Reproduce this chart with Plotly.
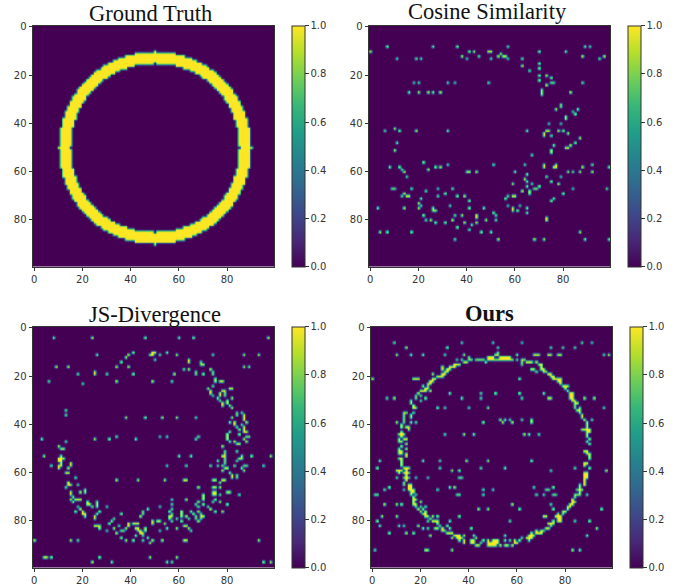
import numpy as np
import plotly.graph_objects as go

SIZE = 100
UPSCALE = 3          # display cells per data cell
BLUR_SIGMA = 0.29    # softening of the picture, in data cells
# Ground truth ring: half-widths per row distance from the centre row
GT_OUTER = [40,39,39,39,39,39,39,39,39,38,38,38,38,37,37,37,36,36,35,35,34,34,33,32,32,31,30,29,28,27,26,25,24,22,21,19,17,15,12,8,0]
GT_INNER = [35,34,34,34,34,34,34,34,34,33,33,33,32,32,32,31,31,30,30,29,28,28,27,26,25,24,23,22,21,19,18,16,14,11,8,0]

COS_ROWS = [8,10,11,12,13,15,16,17,18,20,21,22,23,24,26,27,28,32,33,34,35,36,37,38,40,42,43,44,45,46,48,49,50,51,52,53,56,57,58,59,60,61,62,63,64,65,66,67,68,69,70,71,72,73,74,75,76,77,78,79,80,81,82,83,84,85,88]
COS_COLS = [[7,26,36,57,89,91],[0,41,43,49,50,70,81],[54],[38,45,53,55,56,88,97],[11,19,21,40,50,57,63,95],[70],[63],[70],[66],[70,73],[75],[70],
 [18,20,32,35,49,75,76,88],[73],[71],[16,20,24,26,29,71,83],[71],[79],[79],[77,86],[84],[85],[81],[81],[74,79],[10],
 [6,12,19,32,65,73,74,78,80],[72,82],[72,75],[87],[11,85],[76,83],[81,82],[10,75],[75],[67],[22],[32,51,64,72,77,92],
 [8,12,27,29,72,76,77,88,99],[13,24],[14,40,41,44,60,82,84,87,92],[65],[15,73,79],[64],[65,75],[59,67,78],[65,70],
 [9,10,17,28,34,68,69,84,98],[23,63,66],[14,31,66,80],[13,15,16,28,36,39,57,59,60],[21,56,76],[41,75],[20],[21,33,57,62],
 [3,14,20,26,41,47,59,65],[26,27,59,61],[51,65],[22,35,38,44,52],[44,73],[23,25,34,48,52,73],[27,31,39,44],[42],[36],[41],
 [4,7,17,46,50,87],[35,53,68,72,89,99]]

JS_ROWS = [4,10,11,12,13,14,15,16,17,18,19,21,22,23,24,25,26,27,28,29,30,31,32,33,34,35,36,37,38,39,40,41,42,43,44,45,46,47,48,49,50,51,52,53,54,55,56,57,58,59,60,61,62,63,64,65,66,67,68,69,70,71,72,73,74,75,76,77,78,79,80,81,82,83,84,85,86,87,88,89,95,97]
JS_COLS = [[8,24,46,60,66,97],[41,49,50,55],[26,39,48,49,52,59,74,87,93],[38],[50,64],[36,64,69],[69,70],[9,14,34,39,87,89],[62,64,73],[25,67,74],
 [18,25,30,41,58,67,70,74],[75],[6,34,49,57,75,77,78],[20],[74],[72,81,82],[73,78,79],[73,77,79],[74,77,79],[76,82],[77,80],[78,80],[78,81],[82],[13],[84,86],
 [13,84,87],[38,46,53,59,67,82,87],[87],[81,83,88],[83,86],[84,87],[85,87],[81,87,88],[80,85],[34,52,55,68,80,88,89],[3,25,31,42,67,80,87],[13,81,83,88],[84,85],[10,78],[11,12],[79,84],[79],
 [4,11,60,65,78,79,86,90,98],[10,11,12,79,85,86],[10,11,76,79,84],[11,15,79],[7,10,11,15,55,63,73,76,78,83,87,88,95],[10,14,79,80,86],[78,87],[13,14,81],[82,84],[17,82,84],
 [34,43,54,62,63,74,75,78,79],[14,77],[14,15,18],[13,68,74,75,77],[21],[15,19,21,74,75,80,81],[15,70,74,75,77,85],[16,70],[15,17,18,19,57,63,70,75],[16,22,26,68,74,77],
 [22,23,26,57,67,70,80],[18,24,26,30,52,68,72],[19,47,57,73],[17,20,27,45,56,61,65,68,75,78],[20,21,26,36,45,57,61,66,69],[21,25,44,56,57,61,63,67,69,70],[25,33,56,59,64,67,69],
 [32,49,51,52,57,61,68],[31,39,41,42,43,49,54],[25,26,27,35,39,62,63],[27,33,38,42,43,46,55,59,64],[30,36,37,43,44,46,52,65],[34,44,45],[42,45],[36,47],[0,15,18,38,41,45,49,53,62,63,93],[48],
 [4,5,7,27,48,59],[24,32,55,57,95,98]]

OURS_ROWS = [6,8,11,21,27,29,33,38,39,44,55,58,59,62,66,67,69,73,75,78,80,82,83,85,86,92]
OURS_COLS = [[9,37,50,62,87,91],[14,31,52,74,79,84],[10,16,21,30,38,51,60,67,68,69,73,74,77,78,96,98],[0,61],[32,45,51,61,71],[6,9,37,45,62,73,74,88,92],[27,30,40,48,96],
 [53,55,57,62,66,91],[10,46,54,58,66],[30,38,42,63,65,69],[3,21,28,39,48,66],[2,28,45,55,84],[33,36,74,97],[18,23,36,37],[7,32,34,67,75],[5,27,46,50,72,73],
 [1,2,35,36,46,68,71,75,76,89],[5,10,12,58,74],[44,48,61,75,95],[4,10,36,71,72],[2,32,57,84,90],[3,11,13,19],[21,23,41,93],[7,14,17],[24,42,55,89],[1,22,23,33,83,86]]
RING_ROWS = [10,11,12,13,14,15,16,17,18,19,20,21,22,23,24,25,26,27,28,29,30,31,32,33,34,35,36,37,38,39,40,41,42,43,44,45,46,47,48,49,50,51,52,53,54,55,56,57,58,59,60,61,62,63,64,65,66,67,68,69,70,71,72,73,74,75,76,77,78,79,80,81,82,83,84,85,86,87,88,89,90]
RING_COLS = [[52],[51,52],[40,48,49,50,53,54,55,56,57],[35,37,40,41,43,44,45,46,48,49,50,51,52,53,54,55,56,57,58,60,62,63],[38,39,47,62,64,65,66,68],[34,35,36,62,69,70],[29,32,33,34,70],[29,31,32,66,67,70,71],[30,31,68,71,72],
 [25,29,30,73,74],[27,28,29,74,75],[17,18,19,25,26,75,76,77,78],[24,25,77,78],[23,24,78],[21,23,79,80,81],[22,23,80],[20,21,22,24,81],[19,82,83],[18,20,82,83],[18,22,82,83],[16,20,83,84],[16,84,85],[17,84],[17,18,84,86],[85,86],[13,14,17,86],[13,16,87],[13,16,87],
 [13,88],[10,13,16,18,89],[12,89],[12,14,15,89],[15,87,88,89,90],[12,89,90],[11,12,13,89],[12,89],[11,13,14,90],[11,12,89],[14,90],[12],[11,14],[11,12,88,89],[11,12,14,89,90],[14,90],[11,12,90],[12],[12,88,89],[12,88],[13,14,15,90],[10,11,12,14],[11,13,14,15,88,89],[14,88,89],[10,13,14,15,88,89],[14,88],[13,88],
 [13,15,16,86,88],[15,16,86],[13,15,16,17,85,86,87],[16,17,86],[16,18,84,85,86],[17,84],[17,18,83],[17,20,83,84],[17,18,82,83],[18,20,22,81,82],[19,21,81],[20,22,79,80],[21,22,77,79],[22,23,25,27,76,77,78],[24,77,78],[23,25,26,27,75,77,78],[27,73,74,75],[28,31,74],[26,27,29,32,72,73],[29,30,68,70,71],[31,32,33,66,68,69,70],[34,35,36,38,65,66,67],[33,35,36,37,43,62,64,65,66],
 [36,38,41,42,46,48,50,51,52,55,57,59,61,65],[38,41,42,45,48,49,50,51,52,59,60],[43,44,48,49,50,51,53,55,56,58]]

TITLES = ["Ground Truth", "Cosine Similarity", "JS-Divergence", "<b>Ours</b>"]
AXIS_TICKS = [0, 20, 40, 60, 80]
CBAR_TICKS = [0.0, 0.2, 0.4, 0.6, 0.8, 1.0]


def from_rows(rows, cols):
    z = np.zeros((SIZE, SIZE))
    for r, cs in zip(rows, cols):
        z[r, cs] = 1.0
    return z


def soften(z):
    """Same cells, drawn with the soft edges of the resampled reference picture."""
    big = np.kron(z, np.ones((UPSCALE, UPSCALE)))
    s = BLUR_SIGMA * UPSCALE
    t = np.arange(-4, 5)
    kernel = np.exp(-t**2 / (2 * s * s))
    kernel /= kernel.sum()
    big = np.apply_along_axis(lambda v: np.convolve(v, kernel, mode="same"), 0, big)
    big = np.apply_along_axis(lambda v: np.convolve(v, kernel, mode="same"), 1, big)
    return np.round(big, 3)


z_gt = np.zeros((SIZE, SIZE))
for d, outer in enumerate(GT_OUTER):
    inner = GT_INNER[d] if d < len(GT_INNER) else -1
    for r in {50 - d, 50 + d}:
        for c in range(50 - outer, 50 + outer + 1):
            if abs(c - 50) > inner:
                z_gt[r, c] = 1.0
z_cos = from_rows(COS_ROWS, COS_COLS)
z_js = from_rows(JS_ROWS, JS_COLS)
z_ours = np.maximum(from_rows(OURS_ROWS, OURS_COLS), from_rows(RING_ROWS, RING_COLS))
PANELS = [z_gt, z_cos, z_js, z_ours]

W, H = 688, 587
# pixel boxes: left, right, top, bottom, colorbar left, title x, title y
BOXES = [(33, 274, 25.7, 266.7, 292, 150, 13),
         (369, 610, 25.7, 266.7, 628, 487, 11),
         (33, 274, 326.7, 567.7, 292, 155, 314),
         (371, 612, 326.7, 567.7, 630, 489, 313)]

coords = (np.arange(SIZE * UPSCALE) + 0.5) / UPSCALE - 0.5

fig = go.Figure()
TICK_FONT = dict(family="DejaVu Sans", size=10, color="#333333")
for i, (z, b) in enumerate(zip(PANELS, BOXES)):
    l, r, t, bt, cb, tx, ty = b
    sfx = "" if i == 0 else str(i + 1)
    fig.add_trace(go.Heatmap(
        z=soften(z), x=coords, y=coords,
        colorscale="Viridis", zmin=0, zmax=1, zsmooth="best",
        xaxis="x" + sfx, yaxis="y" + sfx, hoverinfo="skip",
        colorbar=dict(
            x=cb / W, xanchor="left", xref="paper", y=1 - bt / H, yanchor="bottom", yref="paper",
            len=(bt - t) / H, lenmode="fraction", thickness=13, thicknessmode="pixels",
            xpad=0, ypad=0, outlinewidth=1, outlinecolor="#333333",
            tickmode="array", tickvals=CBAR_TICKS, ticktext=[f"{v:.1f}" for v in CBAR_TICKS],
            ticks="outside", ticklen=3.5, tickwidth=0.8, tickcolor="#333333", tickfont=TICK_FONT,
        ),
    ))
    fig.update_layout({
        "xaxis" + sfx: dict(domain=[l / W, r / W], range=[-0.5, 99.5], anchor="y" + sfx,
                            tickmode="array", tickvals=AXIS_TICKS, ticks="outside", ticklen=3.5, tickwidth=0.8,
                            tickcolor="#333333", tickfont=TICK_FONT, showgrid=False, zeroline=False,
                            showline=True, mirror=True, linecolor="#333333", linewidth=0.8),
        "yaxis" + sfx: dict(domain=[1 - bt / H, 1 - t / H], range=[99.5, -0.5], anchor="x" + sfx,
                            tickmode="array", tickvals=AXIS_TICKS, ticks="outside", ticklen=3.5, tickwidth=0.8,
                            tickcolor="#333333", tickfont=TICK_FONT, showgrid=False, zeroline=False,
                            showline=True, mirror=True, linecolor="#333333", linewidth=0.8),
    })
    fig.add_annotation(text=TITLES[i], x=tx / W, y=1 - ty / H, xref="paper", yref="paper",
                       xanchor="center", yanchor="middle", showarrow=False,
                       font=dict(family="Liberation Serif", size=22.5, color="#111111"))

fig.update_layout(width=W, height=H, margin=dict(l=0, r=0, t=0, b=0, autoexpand=False),
                  paper_bgcolor="white", plot_bgcolor="white", showlegend=False)
fig.write_html("out.html", config={"displayModeBar": False},
               post_script="document.body.style.margin='0';document.documentElement.style.overflow='hidden';")
